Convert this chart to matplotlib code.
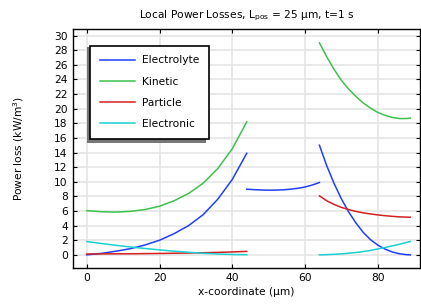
import matplotlib
matplotlib.use("Agg")
import matplotlib.pyplot as plt
from matplotlib.patches import Rectangle
from matplotlib.transforms import IdentityTransform

# ---- data ----
x_neg = [0, 4, 8, 12, 16, 20, 24, 28, 32, 36, 40, 44]
electrolyte_neg = [0.0, 0.2, 0.5, 0.85, 1.35, 2.0, 2.9, 4.0, 5.5, 7.6, 10.3, 13.9]
kinetic_neg = [6.05, 5.9, 5.85, 5.95, 6.2, 6.65, 7.4, 8.4, 9.8, 11.8, 14.5, 18.2]
particle_neg = [0.12, 0.13, 0.14, 0.15, 0.17, 0.19, 0.22, 0.25, 0.29, 0.34, 0.40, 0.47]
electronic_neg = [1.82, 1.55, 1.3, 1.08, 0.87, 0.68, 0.5, 0.35, 0.22, 0.12, 0.05, 0.02]

x_sep = [44, 46, 48, 50, 52, 54, 56, 58, 60, 62, 64]
electrolyte_sep = [8.98, 8.92, 8.87, 8.85, 8.86, 8.9, 8.98, 9.1, 9.28, 9.55, 9.9]

x_pos = [64, 66, 68, 70, 72, 74, 76, 78, 80, 82, 84, 86, 88, 89]
electrolyte_pos = [15.0, 12.2, 9.8, 7.7, 5.9, 4.4, 3.1, 2.1, 1.35, 0.8, 0.4, 0.15, 0.02, 0.0]
kinetic_pos = [29.0, 27.1, 25.4, 23.9, 22.7, 21.7, 20.8, 20.1, 19.5, 19.1, 18.8, 18.65, 18.65, 18.72]
particle_pos = [8.07, 7.4, 6.9, 6.5, 6.2, 5.95, 5.75, 5.6, 5.47, 5.36, 5.27, 5.2, 5.16, 5.15]
electronic_pos = [0.0, 0.03, 0.08, 0.14, 0.22, 0.32, 0.45, 0.6, 0.8, 1.0, 1.22, 1.45, 1.7, 1.82]

labels = ["Electrolyte", "Kinetic", "Particle", "Electronic"]
colors = ["#1f3fff", "#3cc24a", "#d42020", "#1ad0d0"]

xticks = [0, 20, 40, 60, 80]
yticks = list(range(0, 31, 2))

fs = 7.7
plt.rcParams['font.family'] = ['DejaVu Sans']

fig = plt.figure(figsize=(4.21, 3.04), dpi=100)
ax = fig.add_axes([0.1727, 0.1184, 0.826, 0.7862])

lw = 1.1
ax.plot(x_neg, electrolyte_neg, color=colors[0], lw=lw, label=labels[0])
ax.plot(x_sep, electrolyte_sep, color=colors[0], lw=lw)
ax.plot(x_pos, electrolyte_pos, color=colors[0], lw=lw)
ax.plot(x_neg, kinetic_neg, color=colors[1], lw=lw, label=labels[1])
ax.plot(x_pos, kinetic_pos, color=colors[1], lw=lw)
ax.plot(x_neg, particle_neg, color=colors[2], lw=lw, label=labels[2])
ax.plot(x_pos, particle_pos, color=colors[2], lw=lw)
ax.plot(x_neg, electronic_neg, color=colors[3], lw=lw, label=labels[3])
ax.plot(x_pos, electronic_pos, color=colors[3], lw=lw)

ax.set_xlim(-3.9, 91.8)
ax.set_ylim(-1.8, 30.9)
ax.set_xticks(xticks)
ax.set_yticks(yticks)
ax.grid(True, color="#e3e3e3", lw=1.1)
ax.set_axisbelow(True)
ax.tick_params(direction="in", top=True, right=True, labelsize=fs,
               length=3, width=0.8, pad=3.5)
for s in ax.spines.values():
    s.set_linewidth(1.0)

ax.set_title(r"Local Power Losses, L$_{\mathrm{pos}}$ = 25 µm, t=1 s",
             fontsize=fs, pad=7.5)
ax.set_xlabel("x-coordinate (µm)", fontsize=fs, labelpad=3)
ax.set_ylabel(r"Power loss (kW/m$^3$)", fontsize=fs, labelpad=20)

leg = ax.legend(loc="upper left", bbox_to_anchor=(0.05, 0.93),
                borderaxespad=0, fontsize=fs, fancybox=False,
                frameon=True, handlelength=3.3, handletextpad=0.7,
                labelspacing=1.05, borderpad=0.9)
frame = leg.get_frame()
frame.set_edgecolor("black")
frame.set_linewidth(1.2)
frame.set_alpha(1.0)
leg.set_zorder(6)

# shadow: shifted left and extended downward
fig.canvas.draw()
bb = leg.get_window_extent()
shadow = Rectangle((bb.x0 - 3, bb.y0 - 4), bb.width, bb.height + 4 - 1,
                   transform=IdentityTransform(), facecolor="#777777",
                   edgecolor="none", zorder=5.5)
ax.add_artist(shadow)

fig.savefig("out.png", dpi=100)
